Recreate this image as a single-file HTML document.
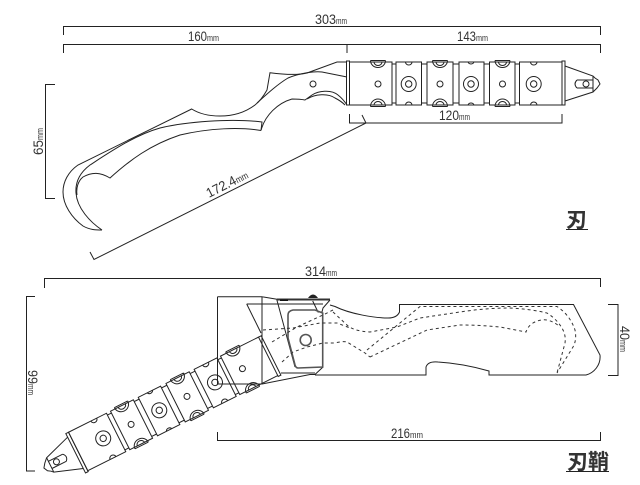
<!DOCTYPE html>
<html>
<head>
<meta charset="utf-8">
<style>
html,body{margin:0;padding:0;background:#fff}
svg{display:block}
text{font-family:"Liberation Sans","Noto Sans CJK JP",sans-serif;fill:#333;font-size:13.5px}
.m{font-size:9.5px}
.l{fill:none;stroke:#222;stroke-width:1}
.g{fill:none;stroke:#555;stroke-width:1.6}
.d{fill:none;stroke:#333;stroke-width:1;stroke-dasharray:3 3}
</style>
</head>
<body>
<svg width="640" height="485" viewBox="0 0 640 485" xmlns="http://www.w3.org/2000/svg">
<defs>
<g id="h" class="l">
  <path d="M346.5,61V105H349.5V61ZM562,61V105H565V61Z"/>
  <path d="M349.5,62H392V105H349.5M392,64H396M392,103H396M396,62H421.5V105H396ZM421.5,64H427M421.5,103H427M427,62H453V105H427ZM453,64H459M453,103H459M459,62H484V105H459ZM484,64H489.5M484,103H489.5M489.5,62H515V105H489.5ZM515,64H519.5M515,103H519.5M519.5,62H562V105H519.5Z"/>
  <circle cx="378" cy="84" r="3"/><circle cx="440" cy="84" r="3"/><circle cx="502.5" cy="84" r="3"/>
  <circle cx="408.7" cy="84" r="7.5"/><circle cx="408.7" cy="84" r="3.2"/>
  <circle cx="471" cy="84" r="7.5"/><circle cx="471" cy="84" r="3.2"/>
  <circle cx="533.7" cy="84" r="7.5"/><circle cx="533.7" cy="84" r="3.2"/>
  <path d="M370.5,60.5H385.5M370.5,60.5A7.5,7,0,0,0,385.5,60.5M374,62A4,3.5,0,0,0,382,62M370.5,106.5H385.5M370.5,106.5A7.5,7.5,0,0,1,385.5,106.5M374,105A4,3.5,0,0,1,382,105"/>
  <path d="M432.5,60.5H447.5M432.5,60.5A7.5,7,0,0,0,447.5,60.5M436,62A4,3.5,0,0,0,444,62M432.5,106.5H447.5M432.5,106.5A7.5,7.5,0,0,1,447.5,106.5M436,105A4,3.5,0,0,1,444,105"/>
  <path d="M495,60.5H510M495,60.5A7.5,7,0,0,0,510,60.5M498.5,62A4,3.5,0,0,0,506.5,62M495,106.5H510M495,106.5A7.5,7.5,0,0,1,510,106.5M498.5,105A4,3.5,0,0,1,506.5,105"/>
  <path d="M405.5,62A3.2,3,0,0,0,412,62M405.5,105A3.2,3,0,0,1,412,105M468,62A3.2,3,0,0,0,474,62M468,105A3.2,3,0,0,1,474,105M530.5,62A3.2,3,0,0,0,537,62M530.5,105A3.2,3,0,0,1,537,105"/>
  <path d="M565,66L593,76L595,78L598,80L600,84L597,88L593,92L565,101"/>
  <path d="M593,76V92M577,80H593M577,88H593M577,80Q573,84 577,88"/>
  <circle cx="586" cy="84" r="3"/>
</g>
</defs>

<rect width="640" height="485" fill="#fff"/>

<!-- top dimensions -->
<path class="l" d="M63.5,35V26.5H600.5V35M63.5,53V44.5H600.5V53M347,44.5V53"/>
<path class="l" d="M55,84.5H45.5V198.5H55"/>
<path class="l" d="M90,252L94,259.5L366,123L362,115"/>
<path class="l" d="M349.5,114V123H562V114"/>
<text x="315" y="24" textLength="21" lengthAdjust="spacingAndGlyphs">303</text>
<text x="336" y="24" class="m" textLength="11" lengthAdjust="spacingAndGlyphs">mm</text>
<text x="188" y="41" textLength="19" lengthAdjust="spacingAndGlyphs">160</text>
<text x="207" y="41" class="m" textLength="12" lengthAdjust="spacingAndGlyphs">mm</text>
<text x="457" y="41" textLength="19" lengthAdjust="spacingAndGlyphs">143</text>
<text x="476" y="41" class="m" textLength="12" lengthAdjust="spacingAndGlyphs">mm</text>
<text x="439" y="120" textLength="20" lengthAdjust="spacingAndGlyphs">120</text>
<text x="459" y="120" class="m" textLength="11" lengthAdjust="spacingAndGlyphs">mm</text>
<g transform="translate(43,155) rotate(-90)"><text x="0" y="0" textLength="15" lengthAdjust="spacingAndGlyphs">65</text><text x="15" y="0" class="m" textLength="12" lengthAdjust="spacingAndGlyphs">mm</text></g>
<g transform="translate(209,198) rotate(-27)"><text x="0" y="0" textLength="32" lengthAdjust="spacingAndGlyphs">172.4</text><text x="32" y="0" class="m" textLength="13" lengthAdjust="spacingAndGlyphs">mm</text></g>

<!-- blade -->
<path class="l" d="M347,62H337L307,73Q295,76 270,72.7L267,90C263,97 259,102 255,105C247,111 235,116 220,116C208,116 198,113 191.7,109L78,165C68,172 63,182 63,192C63,205 72,218 83,226C90,230 96,230 102,230"/>
<path class="l" d="M102,230C90,222 77,208 76,193C75,180 82,171 90,165C110,152 135,135 160,128C185,122 230,118 262,122L261,130.5"/>
<path class="l" d="M261,130.5C240,127 210,128 180,135C150,145 130,160 110,178C100,172 92,172 83,177C78,181 76,188 77,195"/>
<path class="l" d="M261,130.5C265,115 278,103 292,99Q300,99 305,100L312,95C318,91 331,89 338,95Q343,99 347,105"/>
<path class="l" d="M307,99C315,94 328,93 335,98Q341,101 345,105"/>
<path class="l" d="M257,103C268,93 278,84 288,78C300,73 315,71 322,72L347,77"/>
<circle class="l" cx="313" cy="84" r="3"/>
<use href="#h"/>

<!-- label 1 -->
<text x="566" y="227" style="font-size:21px;font-weight:700;font-family:'Noto Sans CJK JP',sans-serif">刃</text>
<path d="M566,229.5H588" stroke="#222" stroke-width="1" fill="none"/>

<!-- bottom dimensions -->
<path class="l" d="M44.5,288V278.5H600.5V287"/>
<path class="l" d="M35,296.5H26.5V471H35"/>
<path class="l" d="M217.5,432V440.5H600.5V432"/>
<path class="l" d="M608,304.5H618V375.5H608"/>
<text x="305" y="276" textLength="21" lengthAdjust="spacingAndGlyphs">314</text>
<text x="326" y="276" class="m" textLength="11" lengthAdjust="spacingAndGlyphs">mm</text>
<text x="391" y="438" textLength="19" lengthAdjust="spacingAndGlyphs">216</text>
<text x="410" y="438" class="m" textLength="13" lengthAdjust="spacingAndGlyphs">mm</text>
<g transform="translate(28,370) rotate(90)"><text x="0" y="0" textLength="14" lengthAdjust="spacingAndGlyphs">99</text><text x="14" y="0" class="m" textLength="11" lengthAdjust="spacingAndGlyphs">mm</text></g>
<g transform="translate(620,326) rotate(90)"><text x="0" y="0" textLength="14" lengthAdjust="spacingAndGlyphs">40</text><text x="14" y="0" class="m" textLength="12" lengthAdjust="spacingAndGlyphs">mm</text></g>

<!-- sheath -->
<path class="l" d="M315,375H426V367Q428,361 438,362C455,363 475,367 489,371V375H586C594,373 601,365 600,355L573.5,304.5H399.5V312Q397,318 388,318C375,318 350,314 335,306.5L330,305"/>
<path class="l" d="M217.5,296.7V384H262V296.7H217.5M262,296.7L277,299.3M246.7,304H323M246.7,304L261,333M262,384L310,374.5H315L323,367M276.7,299.3L295,367M281,373H315"/>
<path d="M277,298.5H330V300.5H277Z" fill="#333"/>
<path d="M280,299.5H288V301H280Z" fill="#111"/>
<path d="M308,298Q313,291 318,298Z" fill="#222"/>
<path class="l" d="M312.7,301L318,312H322L323,308L330,300"/>
<path class="g" d="M293,310H315L322.7,313V367L298,368Q296,368 295,365L288,338V315Q288,311 293,310Z"/>
<circle class="g" cx="305.7" cy="340" r="5.5"/>

<!-- dashed -->
<path class="d" d="M263,330L293,328L320,323H337L350,328"/>
<path class="d" d="M272,342L297,327L323,315L333,310"/>
<path class="d" d="M282,362L293,352L307,347L323,343H335Q342,341 347,342L365,353L370,357"/>
<path class="d" d="M367,350L420,306.5H557Q570,315 575,330Q577,340 573,347L557,373"/>
<path class="d" d="M333,312L347,325Q353,331 370,332L397,327L420,318L460,312Q485,308 510,308Q530,309 547,313Q558,320 563,330Q566,336 565,343L557,373"/>
<path class="d" d="M370,357L427,330L460,325Q480,325 500,327L526,332Q528,326 533,323Q540,319 547,320Q555,322 560,327"/>

<use href="#h" transform="translate(269.7,355) rotate(153.4) translate(-347.5,-84)"/>

<!-- label 2 -->
<text x="567" y="469" style="font-size:21px;font-weight:700;font-family:'Noto Sans CJK JP',sans-serif">刃鞘</text>
<path d="M566,471.5H609" stroke="#222" stroke-width="1" fill="none"/>
</svg>
</body>
</html>
